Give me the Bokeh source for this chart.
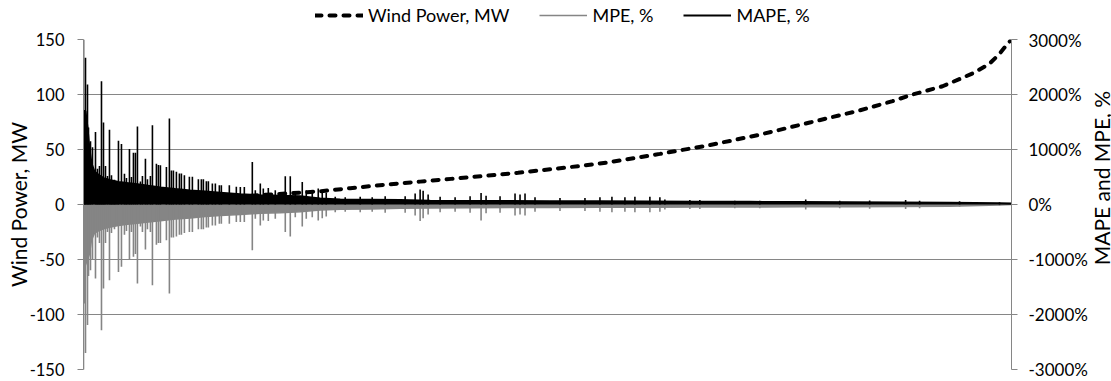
import math
from bokeh.plotting import figure
from bokeh.layouts import column, row
from bokeh.models import (Range1d, LinearAxis, Legend, LegendItem, Label,
                          FixedTicker, PrintfTickFormatter)
from bokeh.embed import file_html
from bokeh.resources import INLINE

# ---- data (observations ranked by wind power) ----
wind_rank = [0, 27, 57, 87, 117, 147, 177, 207, 238, 267, 302, 337, 368, 402,
             435, 477, 502, 527, 577, 627, 677, 727, 777, 810, 830, 860, 877,
             892, 907, 917, 925, 929]
wind_mw = [0.3, 1.2, 2.5, 4.0, 5.5, 7.0, 8.5, 10.2, 12.1, 14.8, 18.0, 20.8,
           23.3, 26.0, 28.8, 33.0, 35.5, 38.5, 46.0, 54.0, 63.5, 74.5, 85.5,
           94.0, 100.0, 107.5, 114.0, 120.0, 128.0, 137.0, 146.0, 150.0]

base_rank = [0, 2, 4, 6, 8, 11, 15, 20, 27, 35, 44, 54, 65, 77, 92, 107, 122,
             137, 157, 177, 197, 217, 237, 257, 287, 317, 347, 387, 427, 467,
             517, 567, 617, 667, 717, 767, 817, 867, 917, 929]
mape_base = [1700, 1700, 1400, 1000, 750, 600, 540, 480, 440, 410, 390, 370,
             340, 310, 280, 255, 235, 215, 185, 170, 160, 150, 110, 90, 85, 80,
             70, 65, 62, 60, 58, 55, 50, 48, 45, 42, 38, 32, 25, 20]
mpe_base = [-1100, -1100, -1000, -900, -650, -520, -480, -440, -410, -380,
            -360, -340, -320, -295, -265, -245, -220, -200, -180, -160, -150,
            -130, -100, -85, -80, -70, -65, -60, -55, -55, -50, -50, -45, -45,
            -40, -40, -35, -30, -10, 0]

spike_rank = [0, 1, 2, 4, 5, 7, 9, 12, 14, 16, 18, 20, 22, 24, 26, 28, 31, 35,
              38, 41, 43, 46, 48, 50, 52, 54, 57, 59, 62, 64, 67, 69, 73, 75,
              77, 83, 86, 88, 90, 93, 96, 98, 101, 106, 109, 115, 118, 120,
              123, 125, 129, 132, 136, 138, 146, 153,
              157, 161, 169, 172, 177, 180, 185, 192, 202, 207, 212, 219, 223,
              229, 235,
              239, 243, 252, 262, 277, 289, 302, 322, 332, 337, 340, 345, 357,
              372, 387, 398, 403, 417, 432, 437, 442, 452, 477, 502, 517, 529,
              542, 552, 567, 577,
              582, 607, 617, 652, 677, 723, 757, 787, 823, 837, 877, 917]
mape_spike = [3000, 1720, 2670, 2180, 1400, 1150, 1040, 1320, 650, 700, 2240,
              1490, 700, 520, 1360, 530, 450, 1160, 1100, 560, 480, 1010, 500,
              940, 940, 1420, 420, 520, 830, 460, 520, 1440, 740, 720,
              714, 680, 1563, 620, 620, 594, 563, 563, 533, 503, 503, 460, 460,
              460, 425, 425, 382, 382, 351, 351, 351, 321,
              320, 320, 775, 260, 381, 290, 300, 260, 515, 515, 230, 411, 260,
              230, 290,
              250, 220, 139, 130, 140, 130, 151, 150, 200, 272, 250, 180, 140,
              130, 150, 211, 160, 150, 200, 180, 200, 130, 120, 120, 130, 140,
              130, 140, 140, 130,
              91, 80, 80, 70, 70, 90, 70, 75, 80, 70, 60, 40]
mpe_spike = [-3100, -1800, -2700, -2190, -1300, -1195, -1000, -1346, -600,
             -700, -2285, -1528, -700, -500, -1376, -520, -450, -1225, -1134,
             -550, -480, -1000, -500, -950, -900, -1437, -400, -500, -820,
             -450, -500, -1467, -730, -700,
             -700, -650, -1619, -600, -600, -580, -550, -550, -520, -500, -500,
             -450, -450, -450, -420, -420, -380, -380, -350, -350, -350, -320,
             -320, -320, -831, -260, -380, -290, -300, -260, -500, -580, -230,
             -400, -260, -230, -290,
             -250, -220, -140, -130, -140, -130, -150, -150, -200, -300, -250,
             -180, -140, -130, -150, -290, -160, -150, -200, -180, -200, -130,
             -120, -120, -130, -140, -130, -140, -140, -130,
             -90, -80, -80, -70, -70, -90, -70, -75, -80, -70, -40, -20]

left_ticks = [-150, -100, -50, 0, 50, 100, 150]
right_ticks = [-3000, -2000, -1000, 0, 1000, 2000, 3000]
series_names = ["Wind Power, MW", "MPE, %", "MAPE, %"]
left_title = "Wind Power, MW"
right_title = "MAPE and MPE, %"

FONT = "Lato"
AXIS_GRAY = "#868686"
MPE_GRAY = "#858585"
WIND_STYLE = dict(line_color="black", line_width=4, line_dash="6 8",
                  line_cap="round")
MPE_STYLE = dict(line_color=MPE_GRAY, line_width=1.5)
MAPE_STYLE = dict(line_color="black", line_width=2)

# ---------------- main chart ----------------
p = figure(width=1090, height=352, x_range=Range1d(0, 929),
           y_range=Range1d(-150, 150), output_backend="svg",
           toolbar_location=None, x_axis_location=None,
           min_border_left=83, min_border_right=78, min_border_top=10,
           min_border_bottom=12)
p.outline_line_color = None
p.extra_y_ranges = {"pct": Range1d(-3000, 3000)}

ax = p.yaxis[0]
ax.ticker = FixedTicker(ticks=left_ticks)
ax.formatter = PrintfTickFormatter(format="%d")
ax.axis_label = left_title

rax = LinearAxis(y_range_name="pct", ticker=FixedTicker(ticks=right_ticks),
                 formatter=PrintfTickFormatter(format="%d%%"))
p.add_layout(rax, "right")

for a, st, fs in ((ax, 13, "16.5px"), (rax, 11, "17px")):
    a.axis_line_color = AXIS_GRAY
    a.major_tick_line_color = AXIS_GRAY
    a.major_tick_out = 6
    a.major_tick_in = 0
    a.minor_tick_out = 0
    a.minor_tick_in = 0
    a.major_label_standoff = st
    a.major_label_text_font = FONT
    a.major_label_text_font_size = fs
    a.major_label_text_color = "black"
ax.axis_label_text_font = FONT
ax.axis_label_text_font_size = "21px"
ax.axis_label_text_font_style = "normal"
ax.axis_label_text_color = "black"
ax.axis_label_standoff = -4

p.ygrid.ticker = FixedTicker(ticks=left_ticks)
p.ygrid.grid_line_color = AXIS_GRAY
p.ygrid.grid_line_width = 1
p.xgrid.grid_line_color = None

p.line(wind_rank, wind_mw, **WIND_STYLE)

p.varea(x=base_rank, y1=[0] * len(base_rank), y2=mpe_base,
        fill_color=MPE_GRAY, y_range_name="pct")
p.line(base_rank, mpe_base, y_range_name="pct", **MPE_STYLE)
p.segment(x0=spike_rank, y0=[0] * len(spike_rank), x1=spike_rank,
          y1=mpe_spike, line_color=MPE_GRAY, line_width=1.6,
          y_range_name="pct")

p.varea(x=base_rank, y1=[0] * len(base_rank), y2=mape_base,
        fill_color="black", y_range_name="pct")
p.line(base_rank, mape_base, y_range_name="pct", **MAPE_STYLE)
p.segment(x0=spike_rank, y0=[0] * len(spike_rank), x1=spike_rank,
          y1=mape_spike, line_color="black", line_width=1.6,
          y_range_name="pct")

# ---------------- right axis title strip ----------------
rt = figure(width=21, height=352, x_range=Range1d(0, 1),
            y_range=Range1d(-3000, 3000), output_backend="svg",
            toolbar_location=None, x_axis_location=None,
            y_axis_location=None, min_border_left=0, min_border_right=0,
            min_border_top=10, min_border_bottom=12)
rt.outline_line_color = None
rt.xgrid.grid_line_color = None
rt.ygrid.grid_line_color = None
rt.add_layout(Label(x=0.5, y=480, text=right_title, angle=math.pi / 2,
                    text_align="center", text_baseline="middle",
                    text_font=FONT, text_font_size="21px",
                    text_color="black"))

# ---------------- legend strip on top ----------------
lg = figure(width=1111, height=29, x_range=Range1d(0, 1), y_range=Range1d(0, 1),
            output_backend="svg", toolbar_location=None,
            x_axis_location=None, y_axis_location=None,
            min_border_left=83, min_border_right=0, min_border_top=0,
            min_border_bottom=0)
lg.outline_line_color = None
lg.xgrid.grid_line_color = None
lg.ygrid.grid_line_color = None
# off-screen stand-ins whose styles feed the legend swatches
r_wind = lg.line([5, 6], [5, 6], **WIND_STYLE)
r_mpe = lg.line([5, 6], [5, 6], **MPE_STYLE)
r_mape = lg.line([5, 6], [5, 6], **MAPE_STYLE)

legend = Legend(items=[LegendItem(label=series_names[0], renderers=[r_wind]),
                       LegendItem(label=series_names[1], renderers=[r_mpe]),
                       LegendItem(label=series_names[2], renderers=[r_mape])],
                orientation="horizontal", location=(232, 3),
                glyph_width=48, glyph_height=18, label_standoff=5, spacing=30,
                padding=0, margin=0, border_line_color=None,
                background_fill_alpha=0, label_text_font=FONT,
                label_text_color="black",
                label_text_font_size="18px", label_height=18)
lg.add_layout(legend, "center")

layout = column(lg, row(p, rt, spacing=0), spacing=0)
open("out.html", "w").write(file_html(layout, INLINE))
